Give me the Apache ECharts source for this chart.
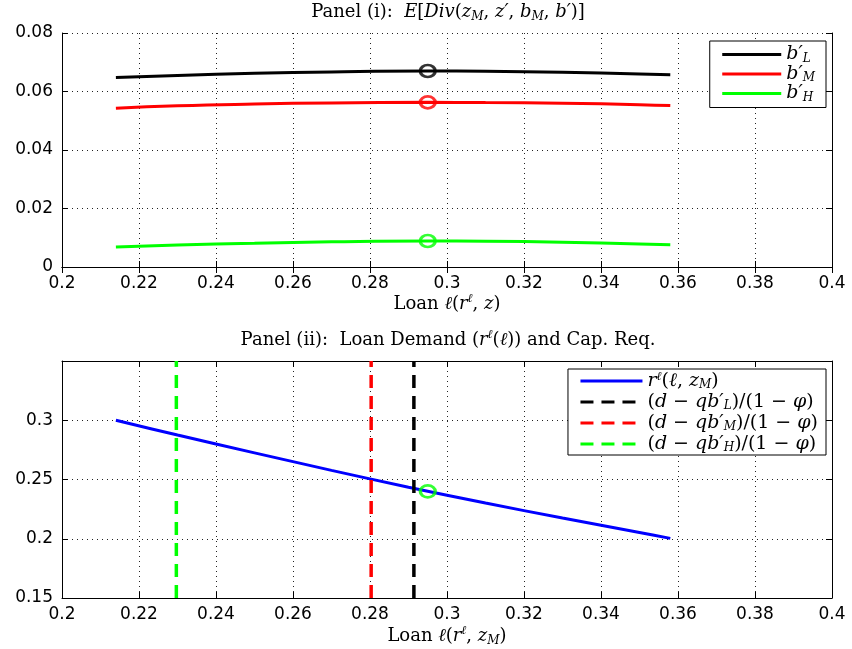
<!DOCTYPE html>
<html><head><meta charset="utf-8">
<script src="https://cdn.jsdelivr.net/npm/echarts@6/dist/echarts.min.js"></script>
<style>html,body{margin:0;padding:0;background:#fff}#c{width:852px;height:649px}</style>
</head><body><div id="c"></div>
<script>
// Panel (i) data
const loanX = [0.214, 0.23, 0.25, 0.27, 0.295, 0.31, 0.33, 0.35, 0.358];
const divL = [0.0648, 0.0655, 0.0662, 0.0667, 0.0670, 0.0669, 0.0666, 0.0660, 0.0657];
const divM = [0.0543, 0.0551, 0.0557, 0.0561, 0.0563, 0.0562, 0.0560, 0.0555, 0.0552];
const divH = [0.0068, 0.0075, 0.0081, 0.0086, 0.0089, 0.0088, 0.0085, 0.0079, 0.0076];
const optLoan = 0.295;
const optDiv = [0.0670, 0.0563, 0.0089];
// Panel (ii) data
const demandX = [0.214, 0.23, 0.25, 0.27, 0.29, 0.31, 0.33, 0.35, 0.358];
const demandR = [0.300, 0.2875, 0.2725, 0.2577, 0.2435, 0.2301, 0.2175, 0.2053, 0.2003];
const capReqX = [0.2914, 0.2803, 0.2297]; // L, M, H
const capY = [0.15, 0.35];
const eqPoint = [0.295, 0.2400];
const xTicks1 = {min: 0.2, max: 0.4, interval: 0.02};
const yTicks1 = {min: 0, max: 0.08, interval: 0.02};
const yTicks2 = {min: 0.15, max: 0.35, interval: 0.05};

const SERIF = "'DejaVu Serif',serif";
function mkRich(fs, sfs, lh) {
  return {
    n: {fontFamily: SERIF, fontSize: fs, fontWeight: 'normal', color: '#000', lineHeight: lh},
    i: {fontFamily: SERIF, fontSize: fs, fontWeight: 'normal', fontStyle: 'italic', color: '#000', lineHeight: lh},
    s: {fontFamily: SERIF, fontSize: sfs, fontWeight: 'normal', fontStyle: 'italic', color: '#000', lineHeight: 8, verticalAlign: 'bottom'},
    u: {fontFamily: SERIF, fontSize: sfs, fontWeight: 'normal', fontStyle: 'italic', color: '#000', lineHeight: 8, verticalAlign: 'top'}
  };
}
const rich = mkRich(18, 12, 22);
const legendRich = mkRich(19, 12, 20);

const labelFont = {fontFamily: "'DejaVu Sans',sans-serif", fontSize: 17, color: '#000'};
const split = {show: true, lineStyle: {type: [1, 4], color: '#222', width: 1}};
const axisLine = {show: true, lineStyle: {color: '#000', width: 1}};
const tick = {show: true, inside: true, length: 6, lineStyle: {color: '#000'}};

function xAx(grid, pos, labels, name, gap) {
  return Object.assign({type: 'value', gridIndex: grid, position: pos}, xTicks1, {
    axisLine: axisLine, axisTick: tick,
    axisLabel: Object.assign({show: labels, margin: 8}, labelFont),
    splitLine: labels ? split : {show: false},
    name: name || '', nameLocation: 'middle', nameGap: gap || 20,
    nameTextStyle: {rich: rich}
  });
}
function yAx(grid, pos, labels, t, hideMax) {
  return Object.assign({type: 'value', gridIndex: grid, position: pos}, t, {
    axisLine: axisLine, axisTick: tick,
    axisLabel: Object.assign({show: labels, margin: 9, showMaxLabel: !hideMax}, labelFont),
    splitLine: labels ? split : {show: false}
  });
}
const pairs = (xs, ys) => xs.map((x, k) => [x, ys[k]]);

const names1 = {bL: '{i|b′}{s|L}', bM: '{i|b′}{s|M}', bH: '{i|b′}{s|H}'};
const names2 = {
  r: '{i|r}{u|ℓ}{n|(}{i|ℓ}{n|, }{i|z}{s|M}{n|)}',
  cL: '{n|(}{i|d}{n| − }{i|qb′}{s|L}{n|)/(1 − }{i|φ}{n|)}',
  cM: '{n|(}{i|d}{n| − }{i|qb′}{s|M}{n|)/(1 − }{i|φ}{n|)}',
  cH: '{n|(}{i|d}{n| − }{i|qb′}{s|H}{n|)/(1 − }{i|φ}{n|)}'
};

const chart = echarts.init(document.getElementById('c'));
chart.setOption({
  animation: false,
  backgroundColor: '#fff',
  title: [
    {text: '{n|Panel (i):  }{i|E}{n|[}{i|Div}{n|(}{i|z}{s|M}{n|, }{i|z′}{n|, }{i|b}{s|M}{n|, }{i|b′}{n|)]}',
     left: 447, top: 0, padding: 1, textAlign: 'center', textStyle: {fontWeight: 'normal', rich: rich}},
    {text: '{n|Panel (ii):  Loan Demand (}{i|r}{u|ℓ}{n|(}{i|ℓ}{n|)) and Cap. Req.}',
     left: 447, top: 328, padding: 1, textAlign: 'center', textStyle: {fontWeight: 'normal', rich: rich}}
  ],
  grid: [
    {left: 62, right: 20, top: 33, height: 234},
    {left: 62, right: 20, top: 361, height: 237}
  ],
  xAxis: [
    xAx(0, 'bottom', true, '{n|Loan }{i|ℓ}{n|(}{i|r}{u|ℓ}{n|, }{i|z}{n|)}', 21),
    xAx(1, 'bottom', true, '{n|Loan }{i|ℓ}{n|(}{i|r}{u|ℓ}{n|, }{i|z}{s|M}{n|)}', 27),
    xAx(0, 'top', false),
    xAx(1, 'top', false)
  ],
  yAxis: [
    yAx(0, 'left', true, yTicks1, false),
    yAx(1, 'left', true, yTicks2, true),
    yAx(0, 'right', false, yTicks1, false),
    yAx(1, 'right', false, yTicks2, true)
  ],
  legend: [
    {data: ['bL', 'bM', 'bH'], orient: 'vertical', right: 26, top: 41,
     itemWidth: 59, itemHeight: 10, itemGap: 0, padding: [4, 11, 4, 11],
     itemStyle: {opacity: 0}, lineStyle: {width: 3},
     backgroundColor: '#fff', borderColor: '#000', borderWidth: 1, borderRadius: 0,
     formatter: n => names1[n], textStyle: {rich: legendRich}},
    {data: ['r', 'cL', 'cM', 'cH'], orient: 'vertical', right: 26, top: 369,
     itemWidth: 62, itemHeight: 10, itemGap: 1.5, padding: [2, 8, 1, 11],
     itemStyle: {opacity: 0}, lineStyle: {width: 3},
     backgroundColor: '#fff', borderColor: '#000', borderWidth: 1, borderRadius: 0,
     formatter: n => names2[n], textStyle: {rich: legendRich}}
  ],
  series: [
    {name: 'bL', type: 'line', xAxisIndex: 0, yAxisIndex: 0, data: pairs(loanX, divL), smooth: true, symbol: 'none', lineStyle: {color: '#000', width: 3}, itemStyle: {color: '#000'}},
    {name: 'bM', type: 'line', xAxisIndex: 0, yAxisIndex: 0, data: pairs(loanX, divM), smooth: true, symbol: 'none', lineStyle: {color: '#ff0000', width: 3}, itemStyle: {color: '#ff0000'}},
    {name: 'bH', type: 'line', xAxisIndex: 0, yAxisIndex: 0, data: pairs(loanX, divH), smooth: true, symbol: 'none', lineStyle: {color: '#00ff00', width: 3}, itemStyle: {color: '#00ff00'}},
    {type: 'scatter', xAxisIndex: 0, yAxisIndex: 0, data: [[optLoan, optDiv[0]]], symbol: 'circle', symbolSize: [15, 12], z: 5, itemStyle: {color: 'transparent', borderColor: '#000', borderWidth: 3}},
    {type: 'scatter', xAxisIndex: 0, yAxisIndex: 0, data: [[optLoan, optDiv[1]]], symbol: 'circle', symbolSize: [15, 12], z: 5, itemStyle: {color: 'transparent', borderColor: '#ff0000', borderWidth: 3}},
    {type: 'scatter', xAxisIndex: 0, yAxisIndex: 0, data: [[optLoan, optDiv[2]]], symbol: 'circle', symbolSize: [15, 12], z: 5, itemStyle: {color: 'transparent', borderColor: '#00ff00', borderWidth: 3}},
    {name: 'r', type: 'line', xAxisIndex: 1, yAxisIndex: 1, data: pairs(demandX, demandR), smooth: 0.3, symbol: 'none', lineStyle: {color: '#0000ff', width: 3}, itemStyle: {color: '#0000ff'}},
    {name: 'cL', type: 'line', xAxisIndex: 1, yAxisIndex: 1, data: capY.map(y => [capReqX[0], y]), symbol: 'none', lineStyle: {color: '#000', width: 3.5, type: [13, 8]}, itemStyle: {color: '#000'}},
    {name: 'cM', type: 'line', xAxisIndex: 1, yAxisIndex: 1, data: capY.map(y => [capReqX[1], y]), symbol: 'none', lineStyle: {color: '#ff0000', width: 3.5, type: [13, 8]}, itemStyle: {color: '#ff0000'}},
    {name: 'cH', type: 'line', xAxisIndex: 1, yAxisIndex: 1, data: capY.map(y => [capReqX[2], y]), symbol: 'none', lineStyle: {color: '#00ff00', width: 3.5, type: [13, 8]}, itemStyle: {color: '#00ff00'}},
    {type: 'scatter', xAxisIndex: 1, yAxisIndex: 1, data: [eqPoint], symbol: 'circle', symbolSize: [15, 12], z: 5, itemStyle: {color: 'transparent', borderColor: '#00ff00', borderWidth: 3}}
  ]
});
</script></body></html>
